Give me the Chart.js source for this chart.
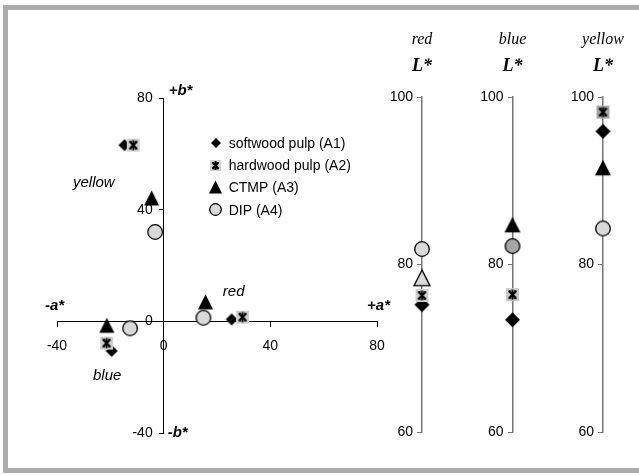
<!DOCTYPE html>
<html>
<head>
<meta charset="utf-8">
<script src="https://cdn.jsdelivr.net/npm/chart.js@4/dist/chart.umd.min.js"></script>
<style>
  html, body { margin: 0; padding: 0; background: #fff; width: 639px; height: 475px; overflow: hidden; }
  #frame { position: absolute; left: 3px; top: 5px; width: 700px; height: 458px;
           border: 5px solid #ababab; border-right: none; }
  canvas { position: absolute; top: 0; }
  #ab { left: 0; }
  #lum { left: 360px; }
</style>
</head>
<body>
<div id="frame"></div>
<canvas id="ab" width="400" height="475"></canvas>
<canvas id="lum" width="279" height="475"></canvas>
<script>
// Pulp samples and the three dyed colours
const pulps = ['softwood pulp (A1)', 'hardwood pulp (A2)', 'CTMP (A3)', 'DIP (A4)'];
const colourNames = ['red', 'blue', 'yellow'];

// a* and b* per sample, in the order red, blue, yellow
const softA = [25.5, -19.5, -14.7];
const softB = [0.7, -10.6, 63.1];
const hardA = [29.6, -21.4, -11.4];
const hardB = [1.5, -7.8, 63.1];
const ctmpA = [15.7, -21.3, -4.5];
const ctmpB = [6.8, -1.6, 44];
const dipA = [14.9, -12.6, -3.2];
const dipB = [1.3, -2.5, 32];

// L* per sample, in the order red, blue, yellow
const softL = [75.2, 73.4, 95.9];
const hardL = [76.3, 76.4, 98.2];
const ctmpL = [78.35, 84.7, 91.5];
const dipL = [81.85, 82.2, 84.3];

// Tick values
const abTicks = [-40, 0, 40, 80];
const lTicks = [60, 80, 100];

// Where the colour names sit on the a*b* plane (a*, b*)
const yellowTag = [-34, 49.5];
const blueTag = [-26.5, -19.4];
const redTag = [22.2, 10.4];

// A linear scale whose vertical axis, when pinned to a data value,
// keeps its labels clear of the tick marks.
class PinnedLinear extends Chart.LinearScale {
  static id = 'pinnedLinear';
  static defaults = Chart.LinearScale.defaults;
  _computeLabelItems(chartArea) {
    const items = super._computeLabelItems(chartArea);
    const opts = this.options;
    if (this.axis === 'y' && typeof opts.position === 'object') {
      const tl = opts.grid.drawTicks ? opts.grid.tickLength : 0;
      const shift = tl + opts.ticks.padding;
      items.forEach(it => { it.options.translation[0] -= shift; });
    }
    return items;
  }
}
Chart.register(PinnedLinear);

// ---- marker sprites ----
function marker(kind, size, fill) {
  const pad = 2;
  const s = Math.ceil(size + pad * 2);
  const c = document.createElement('canvas');
  c.width = s; c.height = s;
  const g = c.getContext('2d');
  const m = s / 2, r = size / 2;
  g.fillStyle = fill;
  g.strokeStyle = '#000';
  g.lineWidth = 1.3;
  if (kind === 'diamond') {
    g.beginPath();
    g.moveTo(m, m - r); g.lineTo(m + r, m); g.lineTo(m, m + r); g.lineTo(m - r, m);
    g.closePath(); g.fill();
  } else if (kind === 'triangle') {
    const h = size * 0.92;
    g.beginPath();
    g.moveTo(m, m - h / 2 - 1); g.lineTo(m + r, m + h / 2); g.lineTo(m - r, m + h / 2);
    g.closePath(); g.fill();
    if (fill !== '#000') g.stroke();
  } else if (kind === 'circle') {
    g.beginPath();
    g.arc(m, m, r - 0.7, 0, Math.PI * 2);
    g.fill(); g.stroke();
  } else if (kind === 'star') {
    g.fillRect(m - r, m - r, size, size);
    const k = r * 0.55;
    g.lineWidth = 2;
    g.beginPath();
    g.moveTo(m - k, m - k); g.lineTo(m + k, m + k);
    g.moveTo(m + k, m - k); g.lineTo(m - k, m + k);
    g.moveTo(m, m - k - 1.5); g.lineTo(m, m + k + 1.5);
    g.stroke();
    g.lineWidth = 1.2;
    g.beginPath();
    g.moveTo(m - k - 0.5, m - k); g.lineTo(m - k + 2, m - k);
    g.moveTo(m + k + 0.5, m - k); g.lineTo(m + k - 2, m - k);
    g.moveTo(m - k - 0.5, m + k); g.lineTo(m - k + 2, m + k);
    g.moveTo(m + k + 0.5, m + k); g.lineTo(m + k - 2, m + k);
    g.stroke();
  }
  return c;
}

const abMarks = [
  marker('diamond', 12, '#000'),
  marker('star', 13, '#d0d0d0'),
  marker('triangle', 15, '#000'),
  marker('circle', 16, '#d9d9d9')
];
const keyMarks = [
  marker('diamond', 10, '#000'),
  marker('star', 11, '#d0d0d0'),
  marker('triangle', 13, '#000'),
  marker('circle', 13, '#d9d9d9')
];
// per column (red, blue, yellow) sprites for the L* axes
const lumMarks = [
  [marker('diamond', 15, '#000'), marker('diamond', 15, '#000'), marker('diamond', 15, '#000')],
  [marker('star', 13, '#d0d0d0'), marker('star', 13, '#c8c8c8'), marker('star', 13, '#a6a6a6')],
  [marker('triangle', 16, '#d9d9d9'), marker('triangle', 16, '#000'), marker('triangle', 16, '#000')],
  [marker('circle', 16, '#d9d9d9'), marker('circle', 16, '#a6a6a6'), marker('circle', 16, '#d9d9d9')]
];

const sans = '"Liberation Sans", Arial, sans-serif';
const serif = '"Liberation Serif", "Times New Roman", serif';
Chart.defaults.font.family = sans;
Chart.defaults.color = '#000';

const pairs = (as, bs) => as.map((a, i) => ({ x: a, y: bs[i] }));
const abSets = [[softA, softB], [hardA, hardB], [ctmpA, ctmpB], [dipA, dipB]];
const lumSets = [softL, hardL, ctmpL, dipL];
// diamonds go down first, circles last
const stackOrder = [4, 3, 2, 1];

// ---- a*b* plane ----
const abNotes = {
  id: 'abNotes',
  afterDraw(chart) {
    const { ctx, scales: { x, y } } = chart;
    const x0 = x.getPixelForValue(0), y0 = y.getPixelForValue(0);
    ctx.save();
    ctx.fillStyle = '#000';
    ctx.textBaseline = 'middle';
    ctx.font = 'italic bold 15px ' + sans;
    ctx.textAlign = 'left';
    ctx.fillText('+b*', x0 + 5, y.top - 7);
    ctx.fillText('-b*', x0 + 4, y.bottom);
    ctx.fillText('-a*', x.left - 12, y0 - 15);
    ctx.textAlign = 'right';
    ctx.fillText('+a*', x.right + 13, y0 - 15);

    ctx.font = 'italic 15px ' + sans;
    ctx.textAlign = 'left';
    [[colourNames[2], yellowTag], [colourNames[1], blueTag], [colourNames[0], redTag]].forEach(([t, p]) => {
      ctx.fillText(t, x.getPixelForValue(p[0]), y.getPixelForValue(p[1]));
    });

    // key
    ctx.font = '14px ' + sans;
    const kx = x0 + 52, ky = y.top + 45;
    pulps.forEach((name, i) => {
      const cy = ky + i * 22.3;
      const img = keyMarks[i];
      ctx.drawImage(img, Math.round(kx - img.width / 2), Math.round(cy - img.height / 2));
      ctx.fillText(name, kx + 13, cy + 1);
    });
    ctx.restore();
  }
};

const axisTicks = vals => scale => { scale.ticks = vals.map(v => ({ value: v })); };

new Chart(document.getElementById('ab'), {
  type: 'scatter',
  data: {
    datasets: abSets.map(([as, bs], i) => ({
      label: pulps[i],
      data: pairs(as, bs),
      pointStyle: abMarks[i],
      order: stackOrder[i],
      clip: false
    }))
  },
  options: {
    responsive: false,
    animation: false,
    events: [],
    layout: { padding: { left: 57, right: 23, top: 98, bottom: 42 } },
    plugins: { legend: { display: false }, tooltip: { enabled: false } },
    scales: {
      x: {
        type: 'pinnedLinear', min: -40, max: 80, position: { y: 0 },
        afterBuildTicks: axisTicks(abTicks),
        grid: { drawOnChartArea: false, drawTicks: true, tickLength: 5, color: '#000' },
        border: { color: '#000', width: 1 },
        ticks: { font: { size: 14 }, color: '#000', padding: 11, maxRotation: 0 }
      },
      y: {
        type: 'pinnedLinear', min: -40, max: 80, position: { x: 0 },
        afterBuildTicks: axisTicks(abTicks),
        grid: { drawOnChartArea: false, drawTicks: true, tickLength: 4, color: '#000' },
        border: { color: '#000', width: 1 },
        ticks: { font: { size: 14 }, color: '#000', padding: 7 }
      }
    }
  },
  plugins: [abNotes]
});

// ---- L* columns ----
const lumNotes = {
  id: 'lumNotes',
  afterDraw(chart) {
    const { ctx, scales: { x } } = chart;
    ctx.save();
    ctx.fillStyle = '#000';
    ctx.textAlign = 'center';
    ctx.textBaseline = 'middle';
    colourNames.forEach((name, i) => {
      const px = x.getPixelForValue(i);
      ctx.font = 'italic 16px ' + serif;
      ctx.fillText(name, px, 40);
      ctx.font = 'italic bold 18px ' + serif;
      ctx.fillText('L*', px, 66);
    });
    ctx.restore();
  }
};

const lumAxis = i => ({
  type: 'pinnedLinear', min: 60, max: 100, position: { x: i },
  afterBuildTicks: axisTicks(lTicks),
  grid: { drawOnChartArea: false, drawTicks: true, tickLength: 4, color: '#777' },
  border: { color: '#777', width: 1.5 },
  ticks: { font: { size: 14 }, color: '#000', padding: 5 }
});

new Chart(document.getElementById('lum'), {
  type: 'scatter',
  data: {
    datasets: lumSets.map((ls, i) => ({
      label: pulps[i],
      data: ls.map((v, k) => ({ x: k, y: v })),
      pointStyle: lumMarks[i],
      order: stackOrder[i],
      clip: false
    }))
  },
  options: {
    responsive: false,
    animation: false,
    events: [],
    layout: { padding: { left: 62, right: 36, top: 97, bottom: 43 } },
    plugins: { legend: { display: false }, tooltip: { enabled: false } },
    scales: {
      x: { type: 'linear', min: 0, max: 2, display: false },
      y: lumAxis(0),
      y2: lumAxis(1),
      y3: lumAxis(2)
    }
  },
  plugins: [lumNotes]
});
</script>
</body>
</html>
